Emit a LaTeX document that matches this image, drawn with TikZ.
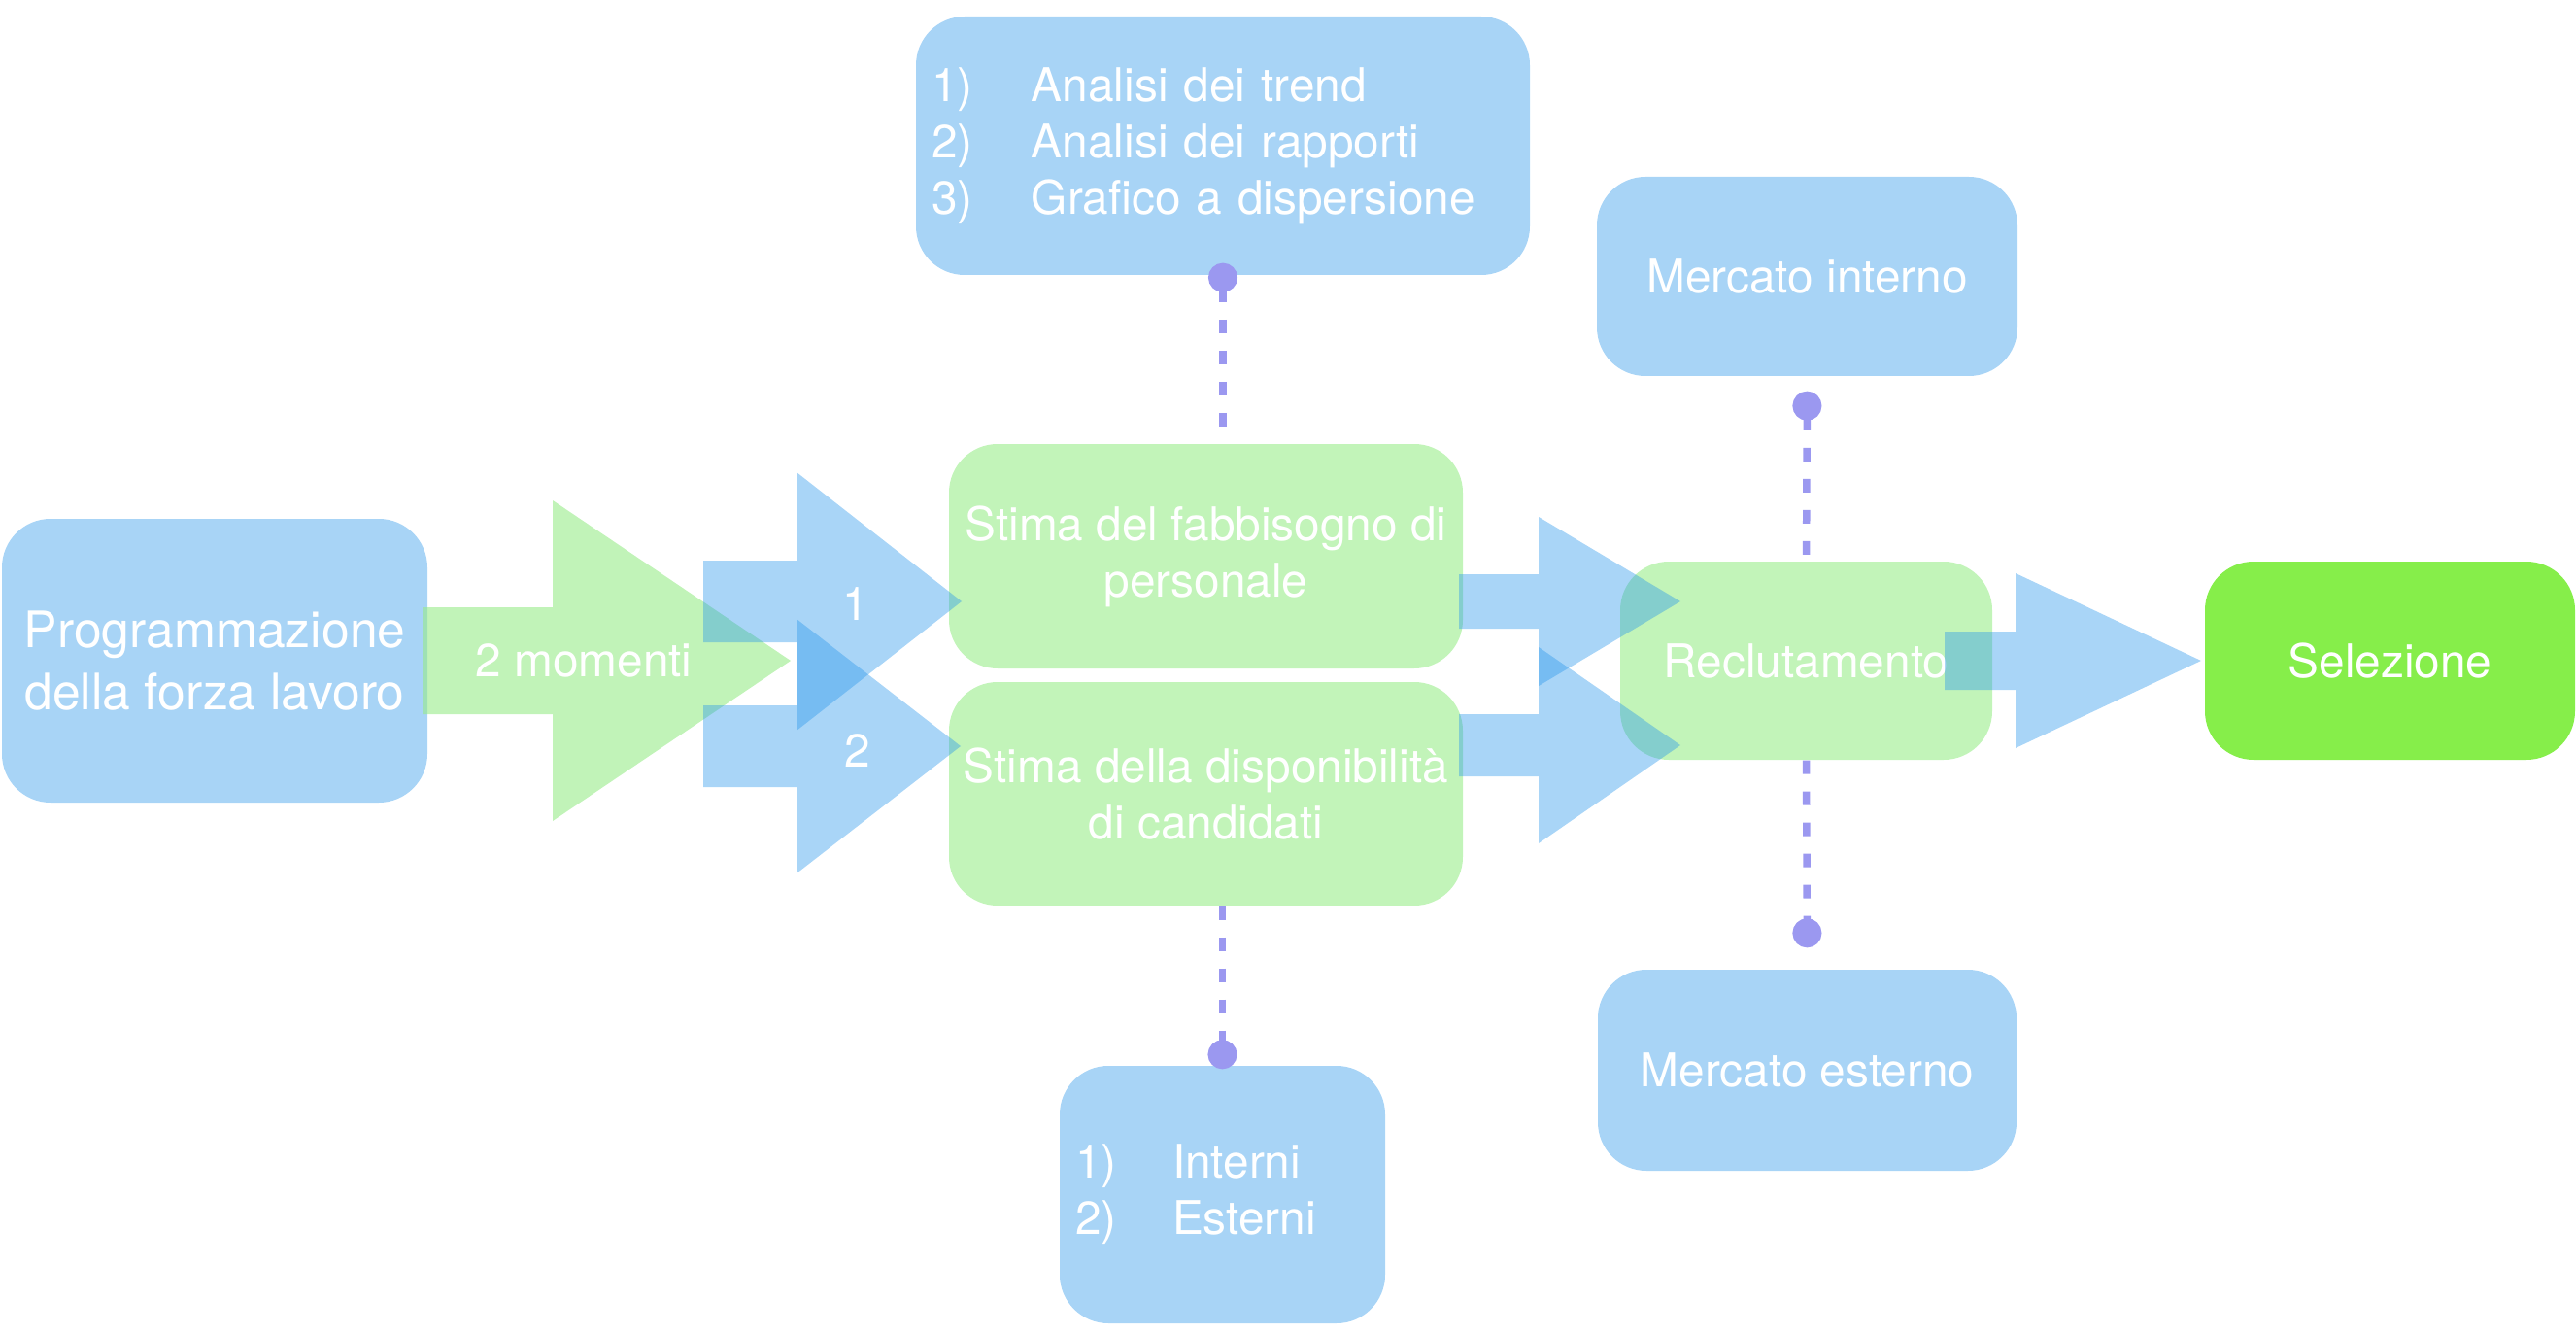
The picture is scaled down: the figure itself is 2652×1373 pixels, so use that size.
\documentclass[tikz,border=0pt]{standalone}
\usepackage{fontspec}
\setmainfont{TeX Gyre Heros}
\usetikzlibrary{arrows.meta, calc}
\definecolor{boxblue}{RGB}{168,212,246}
\definecolor{boxgreen}{RGB}{194,244,185}
\definecolor{selgreen}{RGB}{134,238,74}
\definecolor{arrblue}{RGB}{40,150,235}
\definecolor{arrgreen}{RGB}{152,235,137}
\definecolor{linkviolet}{RGB}{155,152,240}

% block arrow: style, x start, x head, x tip, y centre, half shaft, half head
\newcommand{\blockarrow}[7]{%
  \fill[#1] (#2,#5-#6) -- (#3,#5-#6) -- (#3,#5-#7) -- (#4,#5)
    -- (#3,#5+#7) -- (#3,#5+#6) -- (#2,#5+#6) -- cycle;}

\begin{document}
\begin{tikzpicture}[
    x=0.1mm, y=-0.1mm,
    every node/.style={text=white, font=\fontsize{13.6}{16.5}\selectfont},
    bluebox/.style={rectangle, fill=boxblue, rounded corners=5mm, align=center},
    greenbox/.style={rectangle, fill=boxgreen, rounded corners=5mm, align=center, inner xsep=1mm},
    listbox/.style={bluebox, align=left, inner xsep=1.6mm},
    bluearr/.style={arrblue, fill opacity=0.4},
    greenarr/.style={arrgreen, fill opacity=0.6},
    link/.style={draw=linkviolet, line width=0.75mm, dash pattern=on 1.4mm off 1.8mm},
    linkfrom/.style={link, {Circle[length=3mm]}-},
    linkto/.style={link, -{Circle[length=3mm]}},
]
\useasboundingbox (0,0) rectangle (2652,1373);

% Boxes
\node[bluebox, minimum width=43.8mm, minimum height=29.2mm, font=\fontsize{14.7}{18}\selectfont] (prog) at (221,680) {Programmazione\\della forza lavoro};
\node[listbox, minimum width=63.2mm, minimum height=26.6mm, text width=60mm] (analisi) at (1259,150) {\makebox[10.3mm][l]{1)}Analisi dei trend\\ \makebox[10.3mm][l]{2)}Analisi dei rapporti\\ \makebox[10.3mm][l]{3)}Grafico a dispersione};
\node[greenbox, minimum width=52.9mm, minimum height=23.1mm] (fabb) at (1241.5,572.5) {Stima del fabbisogno di\\personale};
\node[greenbox, minimum width=52.9mm, minimum height=23mm] (disp) at (1241.5,817) {Stima della disponibilità\\di candidati};
\node[listbox, minimum width=33.5mm, minimum height=26.5mm, text width=30.3mm] (interni) at (1258.5,1229.5) {\makebox[10mm][l]{1)}Interni\\ \makebox[10mm][l]{2)}Esterni};
\node[bluebox, minimum width=43.3mm, minimum height=20.5mm] (merci) at (1860.5,284.5) {Mercato interno};
\node[bluebox, minimum width=43.1mm, minimum height=20.7mm] (merce) at (1860.5,1101.5) {Mercato esterno};
\node[greenbox, minimum width=38.3mm, minimum height=20.4mm] (recl) at (1859.5,680) {Reclutamento};
\node[greenbox, fill=selgreen, minimum width=38.1mm, minimum height=20.4mm] (sel) at (2460.5,680) {Selezione};

% Dashed links
\draw[linkfrom] ($(analisi.south)+(0,-13)$) -- (analisi.south |- fabb.north);
\draw[linkto] (interni.north |- disp.south) -- ($(interni.north)+(0,4)$);
\draw[linkfrom] ($(merci.south)+(0,15)$) -- (recl.north);
\draw[linkto] (recl.south) -- ($(merce.north)+(0,-22)$);

% Block arrows
\blockarrow{greenarr}{435}{569}{814}{680}{55}{165}
\blockarrow{bluearr}{724}{820}{990}{619}{42}{133}
\blockarrow{bluearr}{724}{820}{989}{768}{42}{131}
\blockarrow{bluearr}{1502}{1584}{1730}{619}{28}{87}
\blockarrow{bluearr}{1502}{1584}{1730}{767}{32}{101}
\blockarrow{bluearr}{2002}{2075}{2266}{680}{30}{90}

% Arrow labels
\node (lblmom) at (601,680) {2 momenti};
\node (lbl1) at (881,622) {1};
\node (lbl2) at (883,773) {2};

\end{tikzpicture}
\end{document}
